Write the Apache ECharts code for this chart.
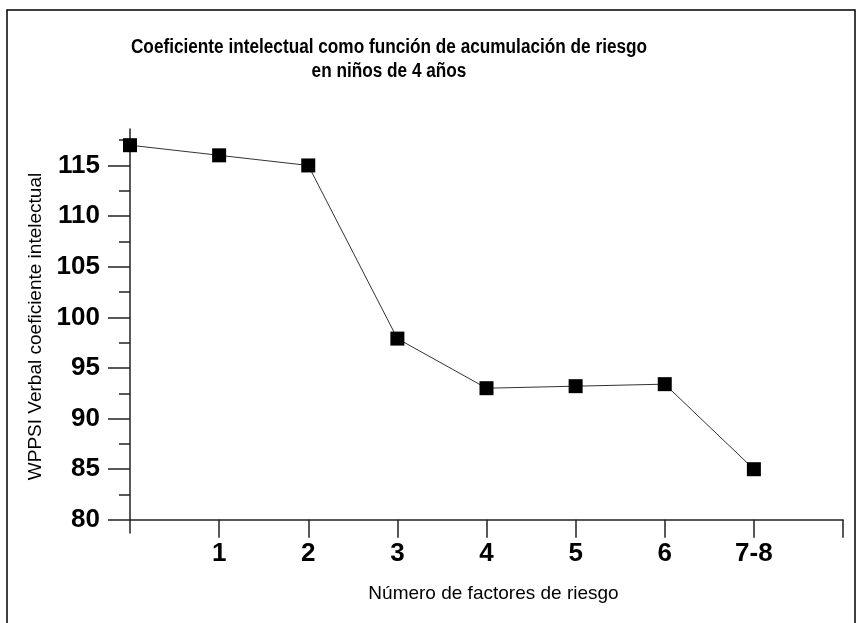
<!DOCTYPE html>
<html>
<head>
<meta charset="utf-8">
<script src="https://cdn.jsdelivr.net/npm/echarts@6/dist/echarts.min.js"></script>
<style>
html,body{margin:0;padding:0;background:#fff;}
#chart{width:862px;height:623px;}
</style>
</head>
<body>
<div id="chart"></div>
<script>
// ---- data ----
var titleLines = ['Coeficiente intelectual como función de acumulación de riesgo', 'en niños de 4 años'];
var xAxisName = 'Número de factores de riesgo';
var yAxisName = 'WPPSI Verbal coeficiente intelectual';
var xPositions = [0, 1, 2, 3, 4, 5, 6, 7];
var iqValues = [117, 116, 115, 97.9, 93, 93.2, 93.4, 85];
var xTickValues = [1, 2, 3, 4, 5, 6, 7, 8];
var xLabelValues = [1, 2, 3, 4, 5, 6, 7];
var xTickLabels = ['1', '2', '3', '4', '5', '6', '7-8'];
var yMajorTicks = [80, 85, 90, 95, 100, 105, 110, 115];
var yMinorTicks = [82.5, 87.5, 92.5, 97.5, 102.5, 107.5, 112.5, 117.5];

var xMin = 0, xMax = 8;
var yMin = 78.7, yMax = 118.6, yBase = 80;

var FONT = '"Liberation Sans Narrow", "Liberation Sans", Arial, sans-serif';
var gridTop = 129, gridBottom = 90;
var gridHeight = 623 - gridTop - gridBottom;
var xAxisOffset = -((yBase - yMin) / (yMax - yMin)) * gridHeight;

var chart = echarts.init(document.getElementById('chart'), null, {renderer: 'canvas'});
var option = {
  backgroundColor: '#fff',
  animation: false,
  graphic: [
    {type: 'rect', shape: {x: 7, y: 10, width: 848, height: 640}, style: {fill: 'none', stroke: '#000', lineWidth: 1.5}, silent: true},
    {type: 'text', x: 389, y: 35, scaleX: 0.86, style: {text: titleLines.join('\n'), font: 'bold 20px ' + FONT, fill: '#000', textAlign: 'center', textVerticalAlign: 'top', lineHeight: 24}}
  ],
  grid: {left: 130, right: 19, top: gridTop, bottom: gridBottom, containLabel: false},
  xAxis: {
    type: 'value', min: xMin, max: xMax,
    offset: xAxisOffset,
    name: xAxisName, nameLocation: 'middle', nameGap: 64,
    nameTextStyle: {fontFamily: FONT, fontSize: 19, color: '#000', padding: [0, 0, 0, 14]},
    axisLine: {show: true, lineStyle: {color: '#222', width: 1.5}},
    axisTick: {show: true, inside: false, length: 18, customValues: xTickValues, lineStyle: {color: '#222', width: 1.5}},
    axisLabel: {
      customValues: xLabelValues,
      margin: 21, fontFamily: FONT, fontWeight: 'bold', fontSize: 26, color: '#000',
      formatter: function (v) { var i = xLabelValues.indexOf(v); return i >= 0 ? xTickLabels[i] : ''; }
    },
    splitLine: {show: false}
  },
  yAxis: [
    {
      type: 'value', min: yMin, max: yMax,
      name: yAxisName, nameLocation: 'middle', nameGap: 85, nameRotate: 90,
      nameTextStyle: {fontFamily: FONT, fontSize: 19, color: '#000', padding: [0, 0, 0, 9]},
      axisLine: {show: true, lineStyle: {color: '#222', width: 1.5}},
      axisTick: {show: true, inside: false, length: 22, customValues: yMajorTicks, lineStyle: {color: '#222', width: 1.5}},
      axisLabel: {customValues: yMajorTicks, margin: 30, fontFamily: FONT, fontWeight: 'bold', fontSize: 26, color: '#000'},
      splitLine: {show: false}
    },
    {
      type: 'value', min: yMin, max: yMax, position: 'left',
      axisLine: {show: false},
      axisTick: {show: true, inside: false, length: 11, customValues: yMinorTicks, lineStyle: {color: '#222', width: 1.5}},
      axisLabel: {show: false},
      splitLine: {show: false}
    }
  ],
  series: [{
    type: 'line',
    data: xPositions.map(function (x, i) { return [x, iqValues[i]]; }),
    symbol: 'rect', symbolSize: 14,
    lineStyle: {color: '#333', width: 1},
    itemStyle: {color: '#000'},
    z: 5
  }]
};
chart.setOption(option);
</script>
</body>
</html>
